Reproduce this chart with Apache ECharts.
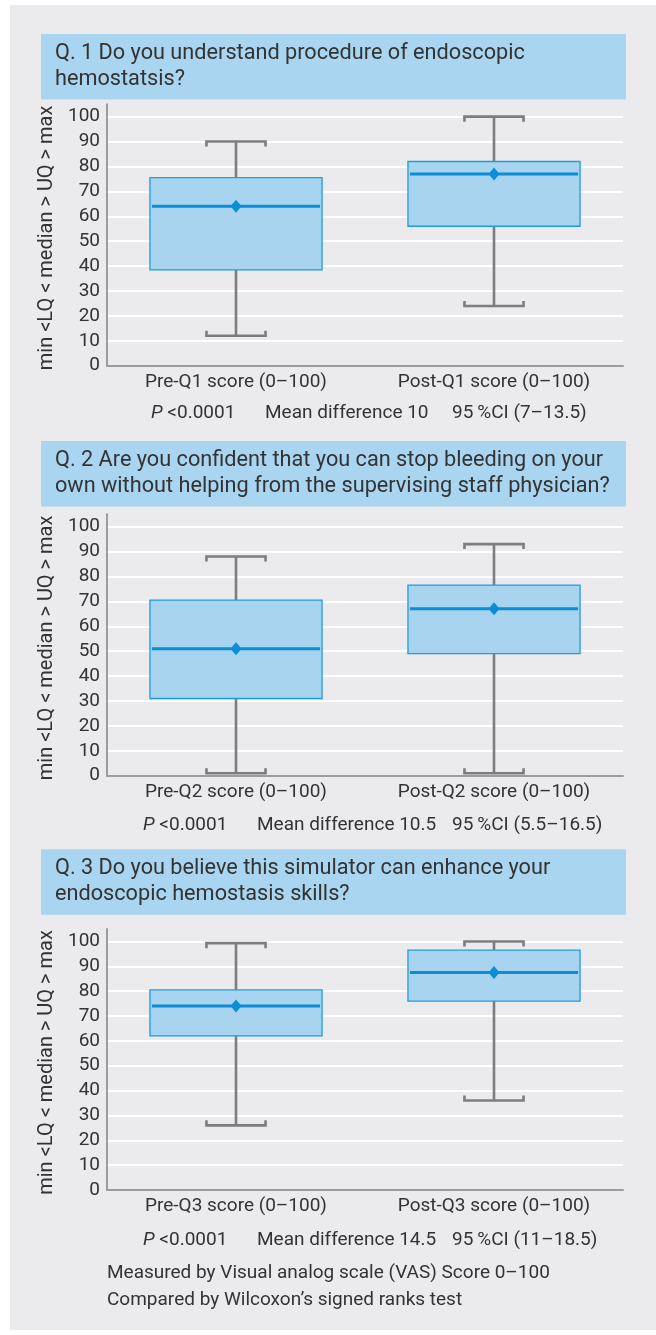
<!DOCTYPE html>
<html>
<head>
<meta charset="utf-8">
<script src="https://cdn.jsdelivr.net/npm/echarts@6/dist/echarts.min.js"></script>
<style>
  html, body { margin: 0; padding: 0; background: #ffffff; }
  #chart { width: 656px; height: 1335px; }
</style>
</head>
<body>
<div id="chart"></div>
<script>
// ---- Data ----
const titleQ1 = ['Q. 1 Do you understand procedure of endoscopic', 'hemostatsis?'];
const titleQ2 = ['Q. 2 Are you confident that you can stop bleeding on your', 'own without helping from the supervising staff physician?'];
const titleQ3 = ['Q. 3 Do you believe this simulator can enhance your', 'endoscopic hemostasis skills?'];

const categoriesQ1 = ['Pre-Q1 score (0–100)', 'Post-Q1 score (0–100)'];
const categoriesQ2 = ['Pre-Q2 score (0–100)', 'Post-Q2 score (0–100)'];
const categoriesQ3 = ['Pre-Q3 score (0–100)', 'Post-Q3 score (0–100)'];

// [min, LQ, median, UQ, max]
const preQ1 = [12, 38.5, 64, 75.5, 90];
const postQ1 = [24, 56, 77, 82, 100];
const preQ2 = [1, 31, 51, 70.5, 88];
const postQ2 = [1, 49, 67, 76.5, 93];
const preQ3 = [26, 62, 74, 80.5, 99.3];
const postQ3 = [36, 76, 87.5, 96.5, 100];

const yTicksMin = 0;
const yTicksMax = 100;
const yTickStep = 10;

const statsQ1 = ['P', ' <0.0001', 'Mean difference 10', '95\u2009%CI (7–13.5)'];
const statsQ2 = ['P', ' <0.0001', 'Mean difference 10.5', '95\u2009%CI (5.5–16.5)'];
const statsQ3 = ['P', ' <0.0001', 'Mean difference 14.5', '95\u2009%CI (11–18.5)'];

const yAxisName = 'min <LQ < median > UQ > max';
const footnotes = ['Measured by Visual analog scale (VAS) Score 0–100', 'Compared by Wilcoxon’s signed ranks test'];

// ---- Styles ----
const FONT = 'Roboto';
const TEXT = '#333333';
const PANEL = '#ebebee';
const TITLE_BG = '#a9d5f0';
const BOX_FILL = '#a9d4ef';
const BOX_STROKE = '#1e9be2';
const MEDIAN = '#0b8ed6';
const WHISKER = '#7d7d7d';
const AXIS = '#9c9c9c';

const chart = echarts.init(document.getElementById('chart'), null, { renderer: 'canvas', width: 656, height: 1335 });

const grids = [
  { left: 107, right: 33, top: 104.2, bottom: 1335 - 365.7 },
  { left: 107, right: 33, top: 514.2, bottom: 1335 - 775.7 },
  { left: 107, right: 33, top: 929.0, bottom: 1335 - 1190 }
];

const cats = [categoriesQ1, categoriesQ2, categoriesQ3];
const series = [[preQ1, postQ1], [preQ2, postQ2], [preQ3, postQ3]];

function renderBox(params, api) {
  const idx = api.value(0);
  const vMin = api.value(1), vLQ = api.value(2), vMed = api.value(3), vUQ = api.value(4), vMax = api.value(5);
  const pMed = api.coord([idx, vMed]);
  const cx = pMed[0];
  const band = api.size([1, 0])[0];
  const boxW = band * 0.667;
  const capW = band * 0.229;
  const yMin = api.coord([idx, vMin])[1];
  const yLQ = api.coord([idx, vLQ])[1];
  const yUQ = api.coord([idx, vUQ])[1];
  const yMax = api.coord([idx, vMax])[1];
  const yMed = pMed[1];
  const tick = 5;
  const wStyle = { stroke: WHISKER, lineWidth: 2.6, fill: null };
  return {
    type: 'group',
    children: [
      { type: 'line', shape: { x1: cx, y1: yMax, x2: cx, y2: yUQ }, style: wStyle },
      { type: 'line', shape: { x1: cx, y1: yLQ, x2: cx, y2: yMin }, style: wStyle },
      { type: 'polyline', shape: { points: [[cx - capW / 2, yMax + tick], [cx - capW / 2, yMax], [cx + capW / 2, yMax], [cx + capW / 2, yMax + tick]] }, style: wStyle },
      { type: 'polyline', shape: { points: [[cx - capW / 2, yMin - tick], [cx - capW / 2, yMin], [cx + capW / 2, yMin], [cx + capW / 2, yMin - tick]] }, style: wStyle },
      { type: 'rect', shape: { x: cx - boxW / 2, y: yUQ, width: boxW, height: yLQ - yUQ }, style: { fill: BOX_FILL, stroke: BOX_STROKE, lineWidth: 1.3 } },
      { type: 'line', shape: { x1: cx - boxW / 2 + 2, y1: yMed, x2: cx + boxW / 2 - 2, y2: yMed }, style: { stroke: MEDIAN, lineWidth: 3 } },
      { type: 'polygon', shape: { points: [[cx, yMed - 6.5], [cx + 5.5, yMed], [cx, yMed + 6.5], [cx - 5.5, yMed]] }, style: { fill: MEDIAN } }
    ]
  };
}

const splitColors = [];
for (let v = yTicksMin; v <= yTicksMax; v += yTickStep) splitColors.push('#ffffff');
splitColors.push(PANEL);

const xAxes = cats.map((c, i) => ({
  type: 'category', gridIndex: i, data: c,
  axisLine: { show: true, lineStyle: { color: AXIS, width: 2 } },
  axisTick: { show: false },
  axisLabel: { fontFamily: FONT, fontSize: 19, color: TEXT, margin: 7 },
  splitLine: { show: false }
}));

const yAxes = cats.map((c, i) => ({
  type: 'value', gridIndex: i, min: yTicksMin, max: 105, interval: yTickStep,
  name: yAxisName, nameLocation: 'middle', nameGap: 49, nameRotate: 90,
  nameTextStyle: { fontFamily: FONT, fontSize: 20, color: TEXT, padding: [0, 6, 0, 0] },
  axisLine: { show: true, lineStyle: { color: AXIS, width: 2 } },
  axisTick: { show: false },
  axisLabel: { fontFamily: FONT, fontSize: 19, color: TEXT, margin: 7, showMaxLabel: false },
  splitLine: { show: true, showMaxLine: false, lineStyle: { color: splitColors, width: 2 } }
}));

const seriesOpts = series.map((pair, i) => ({
  type: 'custom', xAxisIndex: i, yAxisIndex: i,
  renderItem: renderBox,
  encode: { x: 0, y: [1, 2, 3, 4, 5] },
  data: pair.map((s, k) => [k].concat(s)),
  z: 5
}));

function titleBlock(lines, top) {
  return [
    { type: 'rect', shape: { x: 41, y: top, width: 585, height: 65.5 }, style: { fill: TITLE_BG }, z: 1 },
    { type: 'text', x: 55, y: top + 6.5, style: { text: lines.join('\n'), fontFamily: FONT, fontSize: 21.7, lineHeight: 26, fill: TEXT, textVerticalAlign: 'top' }, z: 2 }
  ];
}

function statsBlock(st, xs, y) {
  return [
    { type: 'text', x: xs[0], y: y, style: { text: '{i|' + st[0] + '}{n|' + st[1] + '}', rich: { i: { fontFamily: FONT, fontSize: 19, fontStyle: 'italic', fill: TEXT }, n: { fontFamily: FONT, fontSize: 19, fill: TEXT } }, textVerticalAlign: 'middle' }, z: 2 },
    { type: 'text', x: xs[1], y: y, style: { text: st[2], fontFamily: FONT, fontSize: 19, fill: TEXT, textVerticalAlign: 'middle' }, z: 2 },
    { type: 'text', x: xs[2], y: y, style: { text: st[3], fontFamily: FONT, fontSize: 19, fill: TEXT, textVerticalAlign: 'middle' }, z: 2 }
  ];
}

const graphics = [
  { type: 'rect', shape: { x: 10, y: 5, width: 646, height: 1325 }, style: { fill: PANEL }, z: 0 }
]
.concat(titleBlock(titleQ1, 34))
.concat(titleBlock(titleQ2, 441))
.concat(titleBlock(titleQ3, 849.3))
.concat(statsBlock(statsQ1, [151, 265, 452], 413))
.concat(statsBlock(statsQ2, [143, 257, 452], 825))
.concat(statsBlock(statsQ3, [143, 257, 452], 1240))
.concat([
  { type: 'text', x: 107, y: 1273, style: { text: footnotes[0], fontFamily: FONT, fontSize: 19, fill: TEXT, textVerticalAlign: 'middle' }, z: 2 },
  { type: 'text', x: 107, y: 1300, style: { text: footnotes[1], fontFamily: FONT, fontSize: 19, fill: TEXT, textVerticalAlign: 'middle' }, z: 2 }
]);

chart.setOption({
  animation: false,
  backgroundColor: '#ffffff',
  graphic: { elements: graphics.map(g => Object.assign({ silent: true }, g)) },
  grid: grids,
  xAxis: xAxes,
  yAxis: yAxes,
  series: seriesOpts
});
</script>
</body>
</html>
